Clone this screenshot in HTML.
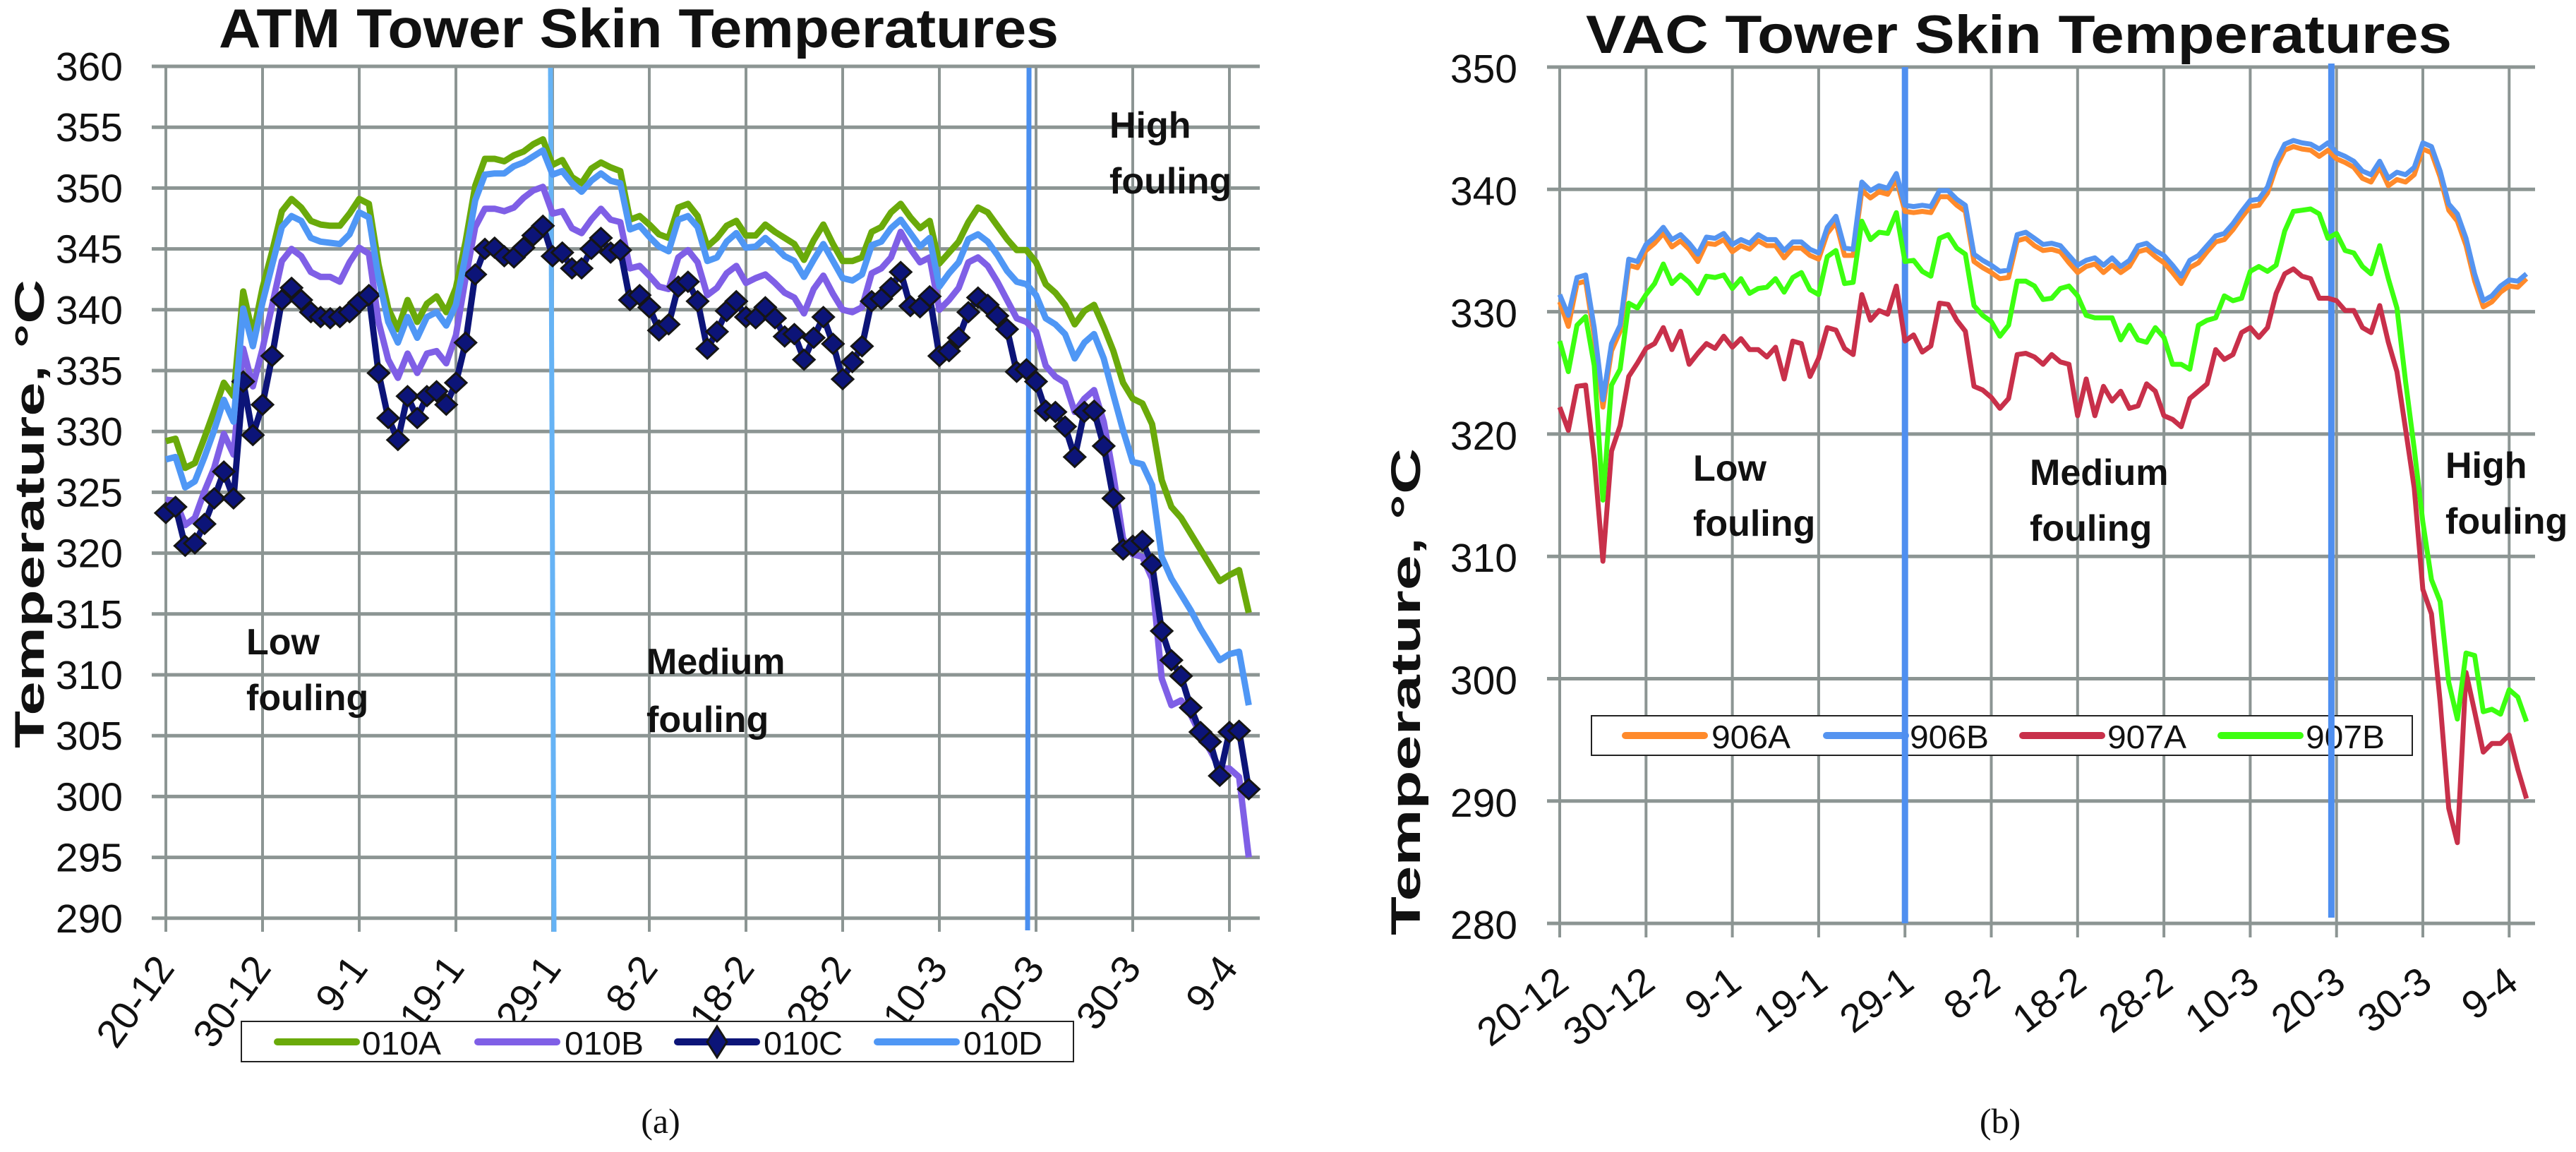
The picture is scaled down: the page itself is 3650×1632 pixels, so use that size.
<!DOCTYPE html>
<html><head><meta charset="utf-8"><style>
html,body{margin:0;padding:0;background:#fff;}
svg{display:block;font-family:"Liberation Sans",sans-serif;}
</style></head><body>
<svg id="chart" width="3650" height="1632" viewBox="0 0 3650 1632" xmlns="http://www.w3.org/2000/svg">
<rect x="0" y="0" width="3650" height="1632" fill="#fff"/>
<g id="left"></g>
<g id="right"></g>
</svg>
<script>
const xLabels = ['20-12','30-12','9-1','19-1','29-1','8-2','18-2','28-2','10-3','20-3','30-3','9-4'];
const xLabelDays = [0,10,20,30,40,50,60,70,80,90,100,110];
const leftTicks = [290,295,300,305,310,315,320,325,330,335,340,345,350,355,360];
const rightTicks = [280,290,300,310,320,330,340,350];
const leftBoundaryDays = [40, 89.2];
const rightBoundaryDays = [40, 89.4];

const s010A = [329.2,329.4,327.0,327.4,329.5,331.7,334.0,332.9,341.5,337.9,341.8,344.8,348.1,349.1,348.4,347.3,347.0,346.9,346.9,347.9,349.1,348.7,343.7,340.1,338.4,340.8,339.0,340.5,341.1,339.8,341.8,345.6,350.2,352.4,352.4,352.2,352.7,353.0,353.6,354.0,351.9,352.3,350.9,
350.4,351.6,352.1,351.7,351.4,347.4,347.7,347.0,346.2,345.9,348.4,348.7,347.7,345.2,345.9,346.9,347.3,346.1,346.1,347.0,346.4,345.9,345.4,344.1,345.7,347.0,345.4,344.0,344.0,344.3,346.4,346.8,348.0,348.7,347.6,346.7,347.3,343.8,344.7,345.6,347.2,
348.4,348.0,346.9,345.8,344.9,344.9,343.9,342.1,341.4,340.4,338.8,339.9,340.4,338.6,336.6,334.0,332.7,332.3,330.6,326.0,323.8,322.9,321.6,320.3,319.0,317.7,318.2,318.6,315.1];
const s010B = [324.4,324.3,322.3,322.9,325.1,327.0,329.8,328.1,336.8,333.7,336.8,340.4,344.0,345.0,344.4,343.1,342.7,342.7,342.3,343.9,345.1,344.6,339.0,335.9,334.4,336.4,334.8,336.4,336.6,335.6,337.9,342.6,346.8,348.3,348.3,348.1,348.4,349.2,349.8,350.1,347.9,348.1,346.7,
346.3,347.4,348.3,347.4,347.2,343.4,343.6,342.8,341.9,341.7,344.3,344.9,343.9,341.2,341.8,343.0,343.6,342.2,342.6,342.9,342.2,341.4,341.0,339.7,341.7,342.8,341.3,340.0,339.8,340.2,343.0,343.4,344.3,346.4,345.0,343.9,344.3,340.0,340.8,341.8,343.9,
344.3,343.6,342.3,340.8,339.3,339.0,338.2,335.4,334.5,334.0,331.6,332.7,333.4,330.8,326.4,321.2,319.9,319.7,317.9,309.7,307.5,307.9,306.7,305.1,303.8,302.3,302.3,301.6,295.0];
const s010C = [323.3,323.8,320.6,320.8,322.4,324.5,326.7,324.5,334.1,329.7,332.2,336.2,340.8,341.8,340.8,339.8,339.4,339.3,339.4,339.8,340.6,341.2,334.8,331.1,329.3,332.9,331.1,332.9,333.3,332.2,334.0,337.3,342.9,345.0,345.1,344.4,344.3,345.1,346.1,346.9,344.4,344.7,343.4,
343.4,345.0,345.9,344.7,344.9,340.8,341.2,340.2,338.3,338.8,341.9,342.3,340.7,336.8,338.2,339.9,340.7,339.4,339.3,340.2,339.3,337.8,338.0,335.9,337.7,339.4,337.2,334.3,335.7,337.0,340.7,340.9,341.8,343.1,340.3,340.2,341.1,336.2,336.6,337.7,339.8,
341.0,340.4,339.5,338.4,334.9,335.1,334.1,331.7,331.6,330.4,327.9,331.6,331.7,328.8,324.5,320.3,320.6,321.0,319.1,313.6,311.2,309.9,307.3,305.3,304.5,301.7,305.3,305.4,300.6];
const s010D = [327.7,327.9,325.4,325.9,327.9,330.1,332.6,330.8,340.1,337.0,340.6,343.7,346.8,347.7,347.3,345.9,345.6,345.5,345.4,346.2,348.0,347.6,342.6,339.0,337.3,339.4,337.7,339.4,339.8,338.7,340.4,344.5,349.0,351.1,351.2,351.2,351.8,352.1,352.6,353.1,351.1,351.4,350.4,
349.7,350.6,351.2,350.6,350.4,346.6,346.9,346.0,345.2,344.8,347.4,347.7,346.8,344.0,344.3,345.6,346.3,345.1,345.2,345.9,345.2,344.4,344.0,342.7,344.1,345.4,344.0,342.6,342.4,342.9,345.3,345.6,346.7,347.4,346.3,345.2,345.9,341.9,343.0,343.9,345.8,
346.2,345.6,344.5,343.2,342.3,342.1,341.2,339.3,338.8,338.0,336.0,337.3,338.0,336.0,333.0,330.1,327.5,327.3,325.6,319.7,317.9,316.6,315.3,313.8,312.5,311.2,311.7,311.9,307.5];

const s906A = [330.8,328.8,332.3,332.5,328.0,322.2,326.8,328.4,333.8,333.6,
335.0,335.6,336.4,335.3,335.8,335.1,334.1,335.6,335.5,335.9,
334.9,335.4,335.1,335.8,335.4,335.4,334.4,335.2,335.2,334.6,
334.3,336.4,337.3,334.6,334.6,339.9,339.3,339.8,339.6,340.8,
338.2,338.1,338.2,338.1,339.4,339.4,338.7,338.2,334.1,333.6,
333.2,332.7,332.8,335.8,336.0,335.4,335.0,
335.1,334.9,334.0,333.2,333.7,333.9,333.2,333.8,333.2,333.7,334.9,335.1,334.5,334.0,333.2,332.3,333.6,334.0,334.9,335.7,335.9,336.7,337.7,338.6,338.7,339.7,
341.8,343.2,343.5,343.3,343.2,342.7,343.2,342.5,342.2,341.8,340.9,340.6,341.8,340.3,340.8,340.6,341.2,343.3,343.0,341.0,338.3,337.4,335.4,332.5,330.4,330.8,331.6,332.1,332.0,332.7];
const s906B = [331.4,329.7,332.8,333.0,328.7,322.8,327.4,328.9,334.3,334.1,
335.5,336.1,336.9,335.9,336.3,335.6,334.7,336.1,336.0,336.4,
335.5,335.9,335.6,336.3,335.9,335.9,335.0,335.7,335.7,335.1,
334.8,336.9,337.8,335.2,335.1,340.6,339.9,340.3,340.1,341.3,
338.7,338.6,338.7,338.6,339.9,339.9,339.2,338.7,334.7,334.2,
333.8,333.3,333.4,336.3,336.5,336.0,335.5,
335.6,335.4,334.6,333.8,334.2,334.4,333.8,334.4,333.7,334.2,335.4,335.6,335.0,334.6,333.8,332.9,334.2,334.6,335.4,336.2,336.4,337.2,338.2,339.1,339.2,340.2,
342.3,343.7,344.0,343.8,343.7,343.3,343.8,343.0,342.7,342.3,341.5,341.2,342.3,340.9,341.4,341.2,341.8,343.8,343.5,341.5,338.8,338.0,336.0,333.1,330.9,331.3,332.1,332.6,332.5,333.1];
const s907A = [322.2,320.3,323.9,324.0,318.0,309.6,318.6,320.7,324.7,325.8,
327.0,327.4,328.7,326.9,328.4,325.7,326.6,327.4,327.0,328.0,
327.1,327.8,326.9,326.9,326.3,327.1,324.5,327.6,327.4,324.7,
326.2,328.7,328.5,327.0,326.5,331.4,329.3,330.1,329.8,332.1,
327.6,328.1,326.7,327.2,330.7,330.6,329.3,328.4,323.9,323.6,
323.0,322.1,322.9,326.5,326.6,326.3,325.7,
326.5,325.9,325.7,321.5,324.5,321.5,323.9,322.7,323.5,322.1,322.3,324.1,323.5,321.5,321.2,320.6,322.9,323.5,324.1,326.9,326.1,326.5,328.3,328.7,327.9,328.7,
331.5,333.1,333.5,332.9,332.7,331.1,331.1,330.9,330.1,330.1,328.7,328.3,330.5,327.5,325.1,320.4,315.6,307.3,305.3,298.1,289.4,286.6,300.5,297.3,294.0,294.7,294.7,295.4,292.6,290.2];
const s907B = [327.6,325.1,328.9,329.6,325.6,314.6,324.0,325.3,330.7,330.3,
331.4,332.3,333.9,332.3,333.0,332.4,331.5,332.9,332.8,333.0,
331.9,332.7,331.5,331.9,332.0,332.7,331.6,332.8,333.2,331.8,
331.4,334.5,335.0,332.3,332.4,337.4,335.9,336.5,336.4,338.1,
334.1,334.2,333.3,332.9,336.0,336.3,335.2,334.7,330.5,329.7,
329.2,328.0,328.9,332.5,332.5,332.1,331.0,
331.1,331.9,332.1,331.3,329.7,329.5,329.5,329.5,327.7,328.9,327.7,327.5,328.7,327.9,325.7,325.7,325.3,328.9,329.3,329.5,331.3,330.9,331.1,333.3,333.7,333.3,
333.8,336.6,338.2,338.3,338.4,338.0,336.0,336.4,335.0,334.8,333.7,333.1,335.4,332.7,330.3,324.3,318.8,312.8,308.1,306.3,299.7,296.7,302.1,301.9,297.3,297.5,297.1,299.1,298.5,296.5];

const NS = 'http://www.w3.org/2000/svg';
function mk(parent, tag, attrs, text){
  const e = document.createElementNS(NS, tag);
  for (const k in attrs) e.setAttribute(k, attrs[k]);
  if (text !== undefined) e.textContent = text;
  parent.appendChild(e);
  return e;
}
// axis functions
function lx(d){ return 235 + 13.7 * d; }
function ly(v){ return 94 + (360 - v) * 17.24; }
function rx(d){ return 2210 + 12.23 * d; }
function ry(v){ return 95 + (350 - v) * 17.33; }
function pts(arr, fx, fy){ return arr.map((v,i)=>fx(i).toFixed(1)+','+fy(v).toFixed(1)).join(' '); }

const GRID = '#8c9593';
// ---------- LEFT CHART ----------
const L = document.getElementById('left');
leftTicks.forEach(t=>{
  const g = mk(L,'line',{x1:215,x2:1785,y1:ly(t),y2:ly(t),stroke:GRID,'stroke-width':5});
  
  
  const tx = mk(L,'text',{x:174,y:ly(t)+20,'font-size':57,'text-anchor':'end',fill:'#111'}, String(t));
  
  
});
xLabelDays.forEach((d,i)=>{
  const g = mk(L,'line',{x1:lx(d),x2:lx(d),y1:94,y2:1320,stroke:GRID,'stroke-width':4});
  
  
  const x = lx(d)+14, y = 1372;
  const tx = mk(L,'text',{x:x,y:y,'font-size':56,'text-anchor':'end',fill:'#111',transform:`rotate(-54 ${x} ${y})`}, xLabels[i]);
  
  
});
const lb1 = mk(L,'line',{x1:lx(leftBoundaryDays[0])-3,x2:lx(leftBoundaryDays[0])+2,y1:96,y2:1320,stroke:'#66b3f5','stroke-width':7});


const lb2 = mk(L,'line',{x1:lx(leftBoundaryDays[1])+1,x2:lx(leftBoundaryDays[1])-1,y1:96,y2:1318,stroke:'#4a8fef','stroke-width':7});



const leftSeries = [['010A',s010A,'#6aaa0a'],['010B',s010B,'#7f5fe6'],['010C',s010C,'#0c1478'],['010D',s010D,'#4f97f5']];
leftSeries.forEach(([name,arr,col])=>{
  const p = mk(L,'polyline',{points:pts(arr,lx,ly),fill:'none',stroke:col,'stroke-width':9,'stroke-linejoin':'round'});
  
  
  if (name==='010C'){
    arr.forEach((v,i)=>{
      const cx=lx(i), cy=ly(v);
      const m = mk(L,'polygon',{points:`${cx},${cy-14} ${cx+15},${cy} ${cx},${cy+14} ${cx-15},${cy}`,fill:'#0c1478',stroke:'#151515','stroke-width':3});
      
      
    });
  }
});
// title & labels
const lt = mk(L,'text',{x:310,y:67,'font-size':78,'font-weight':'bold',textLength:1190,lengthAdjust:'spacingAndGlyphs',fill:'#111'},'ATM Tower Skin Temperatures');


const lyt = mk(L,'text',{x:0,y:0,'font-size':58,'font-weight':'bold','text-anchor':'middle',textLength:664,lengthAdjust:'spacingAndGlyphs',fill:'#111',transform:'translate(62 728) rotate(-90)'},'Temperature, °C');


[['Low',349,927],['fouling',349,1006],['Medium',916,955],['fouling',916,1037],['High',1572,195],['fouling',1572,274]].forEach(([t,x,y])=>{
  const a = mk(L,'text',{x:x,y:y,'font-size':52,'font-weight':'bold',fill:'#111'},t);
  
  
});
// legend
const lleg = mk(L,'rect',{x:342,y:1447,width:1179,height:57,fill:'#fff',stroke:'#222','stroke-width':2});


const lLegX = [[393,513],[677,800],[960,1082],[1243,1365]];
leftSeries.forEach(([name,arr,col],i)=>{
  const [sx,tx0] = lLegX[i];
  const ln = mk(L,'line',{x1:sx,x2:sx+112,y1:1476,y2:1476,stroke:col,'stroke-width':10,'stroke-linecap':'round'});
  
  
  if (name==='010C'){
    const c=sx+56;
    const m = mk(L,'polygon',{points:`${c},1454 ${c+14},1476 ${c},1498 ${c-14},1476`,fill:'#0c1478',stroke:'#151515','stroke-width':3});
    
    
  }
  const t = mk(L,'text',{x:tx0,y:1494,'font-size':46,textLength:112,lengthAdjust:'spacingAndGlyphs',fill:'#111'},name);
  
  
});
const la = mk(L,'text',{x:936,y:1605,'font-size':50,'font-family':'Liberation Serif, serif','text-anchor':'middle',fill:'#111'},'(a)');



// ---------- RIGHT CHART ----------
const R = document.getElementById('right');
rightTicks.forEach(t=>{
  const g = mk(R,'line',{x1:2192,x2:3592,y1:ry(t),y2:ry(t),stroke:GRID,'stroke-width':5});
  
  
  const tx = mk(R,'text',{x:2150,y:ry(t)+22,'font-size':57,'text-anchor':'end',fill:'#111'}, String(t));
  
  
});
xLabelDays.forEach((d,i)=>{
  const g = mk(R,'line',{x1:rx(d),x2:rx(d),y1:95,y2:1328,stroke:GRID,'stroke-width':4});
  
  
  const x = rx(d)+16, y = 1398;
  const tx = mk(R,'text',{x:x,y:y,'font-size':56,'text-anchor':'end',fill:'#111',transform:`rotate(-37 ${x} ${y})`}, xLabels[i]);
  
  
});
// legend (behind boundary lines)
const rleg = mk(R,'rect',{x:2255,y:1014,width:1163,height:56,fill:'#fff',stroke:'#222','stroke-width':2});


const rightSeries = [['906A',s906A,'#ff8a2b'],['906B',s906B,'#5594f0'],['907A',s907A,'#c8304a'],['907B',s907B,'#3cff10']];
const rLegX = [[2303,2425],[2588,2706],[2866,2986],[3147,3267]];
rightSeries.forEach(([name,arr,col],i)=>{
  const [sx,tx0] = rLegX[i];
  const ln = mk(R,'line',{x1:sx,x2:sx+112,y1:1042,y2:1042,stroke:col,'stroke-width':10,'stroke-linecap':'round'});
  
  
  const t = mk(R,'text',{x:tx0,y:1060,'font-size':46,textLength:112,lengthAdjust:'spacingAndGlyphs',fill:'#111'},name);
  
  
});
const rb1 = mk(R,'line',{x1:rx(rightBoundaryDays[0]),x2:rx(rightBoundaryDays[0]),y1:95,y2:1308,stroke:'#4f8ff0','stroke-width':9});


const rb2 = mk(R,'line',{x1:rx(rightBoundaryDays[1]),x2:rx(rightBoundaryDays[1]),y1:90,y2:1300,stroke:'#4f8ff0','stroke-width':9});


rightSeries.forEach(([name,arr,col])=>{
  const p = mk(R,'polyline',{points:pts(arr,rx,ry),fill:'none',stroke:col,'stroke-width':7,'stroke-linejoin':'round'});
  
  
});
const rt = mk(R,'text',{x:2247,y:75,'font-size':76,'font-weight':'bold',textLength:1227,lengthAdjust:'spacingAndGlyphs',fill:'#111'},'VAC Tower Skin Temperatures');


const ryt = mk(R,'text',{x:0,y:0,'font-size':58,'font-weight':'bold','text-anchor':'middle',textLength:690,lengthAdjust:'spacingAndGlyphs',fill:'#111',transform:'translate(2012 980) rotate(-90)'},'Temperature, °C');


[['Low',2399,681],['fouling',2399,759],['Medium',2876,687],['fouling',2876,766],['High',3465,677],['fouling',3465,756]].forEach(([t,x,y])=>{
  const a = mk(R,'text',{x:x,y:y,'font-size':52,'font-weight':'bold',fill:'#111'},t);
  
  
});
const rbL = mk(R,'text',{x:2834,y:1605,'font-size':50,'font-family':'Liberation Serif, serif','text-anchor':'middle',fill:'#111'},'(b)');


</script>
</body></html>
